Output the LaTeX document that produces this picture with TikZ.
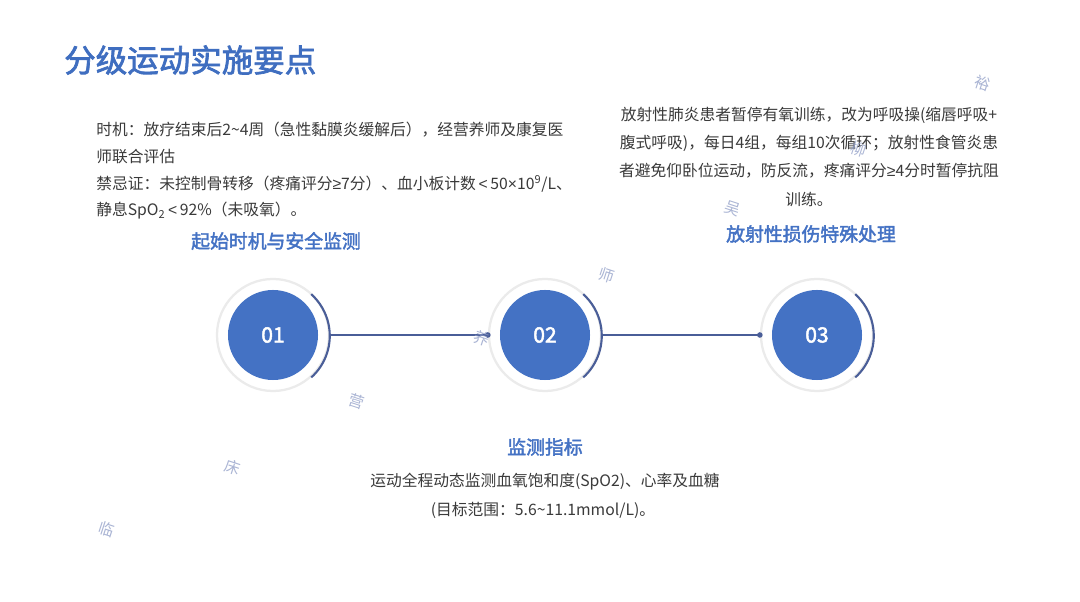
\documentclass[tikz,border=0pt]{standalone}
\usepackage{fontspec}
\setmainfont{Noto Sans CJK SC}[AutoFakeBold=2.2]
\newfontfamily\symf{Liberation Sans}
\newcommand{\lessthan}{\,{\symf <}\,}
\newcommand{\geqs}{{\symf ≥}}
\definecolor{mainblue}{HTML}{4472C4}
\definecolor{titleblue}{HTML}{3F6EC0}
\definecolor{linecol}{HTML}{4A5E98}
\definecolor{bodytxt}{HTML}{3A3A3A}
\definecolor{wmcol}{HTML}{8E9CC6}
\tikzset{
  body/.style={inner sep=0pt, text=bodytxt, font=\fontsize{11.2}{14}\selectfont},
  head/.style={inner sep=0pt, text=mainblue, font=\fontsize{13.4}{16}\selectfont\bfseries},
  ring/.style={circle, draw=black!8, line width=1.6pt, fill=white, minimum size=2.8cm, inner sep=0pt},
  numc/.style={circle, fill=mainblue, minimum size=2.25cm, inner sep=0pt, text=white, font=\fontsize{15}{18}\selectfont\bfseries},
  arcline/.style={draw=linecol, line width=1.5pt},
  conn/.style={draw=linecol, line width=1.1pt},
  wm/.style={inner sep=0pt, text=wmcol, opacity=0.75, font=\fontsize{11}{13}\selectfont, rotate=-18},
}
\begin{document}
\begin{tikzpicture}[x=0.025cm, y=-0.025cm]
\useasboundingbox[fill=white] (0,0) rectangle (1080,602);

% title
\node[anchor=west, inner sep=0pt, text=titleblue, font=\fontsize{22.4}{26}\selectfont\bfseries] (title) at (64,60) {分级运动实施要点};

% left block
\node[body, anchor=west] (l1) at (96,130) {时机：放疗结束后2\textasciitilde 4周（急性黏膜炎缓解后），经营养师及康复医};
\node[body, anchor=west] (l2) at (96,157) {师联合评估};
\node[body, anchor=west] (l3) at (96,184) {禁忌证：未控制骨转移（疼痛评分\geqs 7分）、血小板计数\lessthan 50{\symf ×}10\textsuperscript{9}/L、};
\node[body, anchor=west] (l4) at (96,211) {静息SpO\textsubscript{2}\lessthan 92\%（未吸氧）。};
\node[head] (h1) at (276,241) {起始时机与安全监测};

% right block
\node[body] (r1) at (809,115) {放射性肺炎患者暂停有氧训练，改为呼吸操(缩唇呼吸+};
\node[body] (r2) at (809,143) {腹式呼吸)，每日4组，每组10次循环；放射性食管炎患};
\node[body] (r3) at (809,171) {者避免仰卧位运动，防反流，疼痛评分\geqs 4分时暂停抗阻};
\node[body] (r4) at (809,199) {训练。};
\node[head] (h3) at (811,234) {放射性损伤特殊处理};

% bottom block
\node[head] (h2) at (545,447) {监测指标};
\node[body] (b1) at (545,482) {运动全程动态监测血氧饱和度(SpO2)、心率及血糖};
\node[body] (b2) at (543,510) {(目标范围：5.6\textasciitilde 11.1mmol/L)。};

% circles
\foreach \i/\x in {1/273,2/545,3/817}{
  \node[ring] (o\i) at (\x,335) {};
  \draw[arcline] (o\i.-48) arc[start angle=-48, end angle=48, radius=1.4cm];
}
\node[numc] (c1) at (273,335) {01};
\node[numc] (c2) at (545,335) {02};
\node[numc] (c3) at (817,335) {03};

% connectors
\draw[conn] (o1.east) -- (o2.west);
\draw[conn] (o2.east) -- (o3.west);
\fill[linecol] (o2.west) circle[radius=0.07cm];
\fill[linecol] (o3.west) circle[radius=0.07cm];

% watermark
\node[wm] (w1) at (107,529) {临};
\node[wm] (w2) at (233,467) {床};
\node[wm] (w3) at (357,401) {营};
\node[wm] (w4) at (482,338) {养};
\node[wm] (w5) at (607,275) {师};
\node[wm] (w6) at (733,209) {吴};
\node[wm] (w7) at (859,149) {柳};
\node[wm] (w8) at (983,83) {裕};
\end{tikzpicture}
\end{document}
